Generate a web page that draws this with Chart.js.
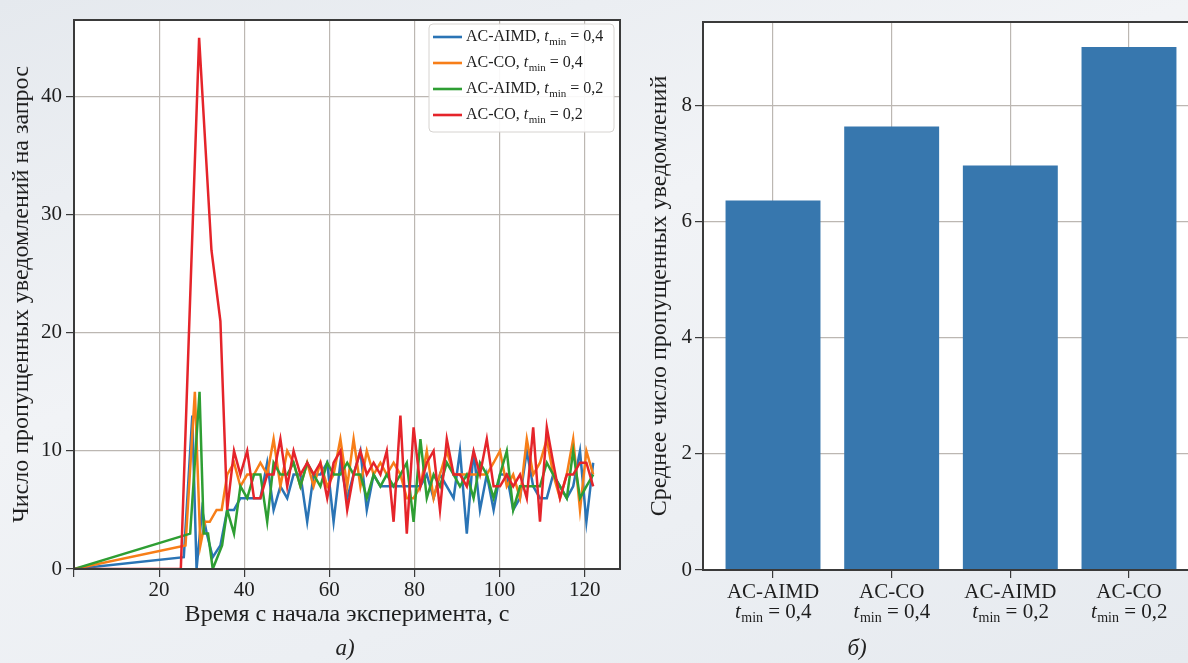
<!DOCTYPE html>
<html>
<head>
<meta charset="utf-8">
<script src="https://cdn.jsdelivr.net/npm/chart.js@4.4.1/dist/chart.umd.min.js"></script>
<style>
  html, body { margin: 0; padding: 0; width: 1188px; height: 663px; overflow: hidden; }
  body {
    background: linear-gradient(160deg, #e5e9ee 0%, #f1f3f6 40%, #eceff3 70%, #e6eaef 100%);
    font-family: "Liberation Serif", serif;
    position: relative;
  }
  #left { position: absolute; left: 0; top: 0; width: 640px; height: 663px; }
  #right { position: absolute; left: 640px; top: 0; width: 580px; height: 663px; }
  .cap { position: absolute; top: 648px; transform: translate(-50%, -50%); font-style: italic; font-size: 23px; color: #222; }
</style>
</head>
<body>
<div id="left"><canvas id="lineChart"></canvas></div>
<div id="right"><canvas id="barChart"></canvas></div>
<div class="cap" style="left:345px">а)</div>
<div class="cap" style="left:857px">б)</div>

<script>
// --- data: left panel (missed notifications per request over time) ---
const seriesNames = ['AC-AIMD', 'AC-CO', 'AC-AIMD', 'AC-CO'];
const seriesTmin = ['0,4', '0,4', '0,2', '0,2'];
const seriesColors = ['#2a74b5', '#f77e18', '#2e9e33', '#e5242a'];

// start-up part of each run (irregular times)
const blueHeadX = [0, 25.8, 27.8, 28.8, 30.1, 31.2, 32.6, 34.4];
const blueHeadY = [0, 1, 13, 0, 5, 3, 1, 2];
const orangeHeadX = [0, 26.2, 28.4, 29.7, 30.8, 31.9, 33.5, 34.7];
const orangeHeadY = [0, 2, 15, 2, 4, 4, 5, 5];
const greenHeadX = [0, 27.3, 29.5, 30.5, 31.5, 32.6, 34.8];
const greenHeadY = [0, 3, 15, 3, 3, 0, 2];
const redHeadX = [0, 25.1, 29.4, 32.3, 34.4];
const redHeadY = [0, 0, 45, 27, 21];

// steady part, common request times
const tailTimes = [36.0, 37.6, 39.1, 40.7, 42.3, 43.8, 45.4, 46.9, 48.5, 50.1, 51.6, 53.2, 54.8, 56.3,
  57.9, 59.5, 61.0, 62.6, 64.2, 65.7, 67.3, 68.8, 70.4, 72.0, 73.5, 75.1, 76.7, 78.2, 79.8, 81.4,
  82.9, 84.5, 86.0, 87.6, 89.2, 90.7, 92.3, 93.9, 95.4, 97.0, 98.6, 100.1, 101.7, 103.2, 104.8,
  106.4, 107.9, 109.5, 111.1, 112.6, 114.2, 115.8, 117.3, 118.9, 120.4, 122.0];
const blueTail = [5, 5, 6, 6, 6, 6, 9, 5, 7, 6, 8, 8, 4, 8, 8, 9, 4, 9, 6, 8, 10, 5, 8, 7, 7, 7, 7, 7,
  7, 7, 8, 6, 8, 7, 6, 10, 3, 10, 5, 8, 5, 8, 8, 5, 6, 10, 7, 6, 6, 8, 7, 6, 7, 10, 4, 9];
const orangeTail = [8, 9, 7, 8, 8, 9, 8, 11, 7, 10, 9, 7, 9, 7, 9, 7, 8, 11, 7, 11, 7, 10, 8, 9, 8, 9,
  8, 6, 6, 7, 10, 6, 8, 10, 8, 8, 8, 8, 8, 8, 9, 10, 7, 8, 6, 11, 8, 9, 11, 8, 6, 8, 11, 5, 10, 8];
const greenTail = [5, 3, 7, 6, 8, 8, 4, 9, 8, 8, 9, 7, 9, 8, 7, 9, 8, 8, 9, 8, 8, 6, 8, 7, 8, 7, 8, 9,
  4, 11, 6, 8, 7, 9, 8, 7, 8, 6, 9, 8, 6, 8, 10, 5, 7, 7, 7, 7, 9, 8, 7, 6, 10, 6, 7, 8];
const redTail = [5, 10, 8, 10, 6, 6, 8, 8, 11, 7, 10, 8, 9, 8, 9, 6, 9, 10, 5, 8, 10, 8, 9, 8, 10, 4,
  13, 3, 12, 7, 9, 10, 5, 11, 8, 8, 7, 10, 8, 11, 7, 7, 8, 7, 8, 6, 12, 4, 12, 9, 6, 8, 8, 9, 9, 7];

const lineXTicks = [0, 20, 40, 60, 80, 100, 120];
const lineYTicks = [0, 10, 20, 30, 40];

// --- data: right panel (mean missed notifications) ---
const barLabels = ['AC-AIMD', 'AC-CO', 'AC-AIMD', 'AC-CO'];
const barTmin = ['0,4', '0,4', '0,2', '0,2'];
const barValues = [6.36, 7.63, 6.96, 9.0];
const barYTicks = [0, 2, 4, 6, 8];

const FONT = '"Liberation Serif", "Times New Roman", serif';
const GRID = '#bcb7b2';
const SPINE = '#3a3a3a';
const INK = '#1e1e1e';

function toPoints(headX, headY, tailY) {
  const xs = headX.concat(tailTimes);
  const ys = headY.concat(tailY);
  return xs.map((x, i) => ({ x: x, y: ys[i] }));
}

// "prefix t_min = value" with italic t and subscript min
function drawTmin(ctx, prefix, value, x, y, size, centered) {
  const sub = Math.round(size * 0.68);
  const main = size + 'px ' + FONT;
  const ital = 'italic ' + size + 'px ' + FONT;
  const small = sub + 'px ' + FONT;
  const rest = ' = ' + value;
  ctx.font = main; const w1 = ctx.measureText(prefix).width;
  ctx.font = ital; const w2 = ctx.measureText('t').width;
  ctx.font = small; const w3 = ctx.measureText('min').width;
  ctx.font = main; const w4 = ctx.measureText(rest).width;
  let cx = centered ? x - (w1 + w2 + w3 + w4) / 2 : x;
  ctx.textAlign = 'left';
  ctx.textBaseline = 'middle';
  ctx.font = main; ctx.fillText(prefix, cx, y); cx += w1;
  ctx.font = ital; ctx.fillText('t', cx, y); cx += w2 + 0.5;
  ctx.font = small; ctx.fillText('min', cx, y + size * 0.32); cx += w3;
  ctx.font = main; ctx.fillText(rest, cx, y);
}

const panelPlugin = {
  id: 'panel',
  beforeDraw(chart) {
    const a = chart.chartArea, ctx = chart.ctx;
    ctx.save();
    ctx.fillStyle = '#ffffff';
    ctx.fillRect(a.left, a.top, a.right - a.left, a.bottom - a.top);
    ctx.restore();
  },
  afterDraw(chart) {
    const a = chart.chartArea, ctx = chart.ctx;
    ctx.save();
    ctx.strokeStyle = SPINE;
    ctx.lineWidth = 2;
    ctx.strokeRect(a.left, a.top, a.right - a.left, a.bottom - a.top);
    ctx.restore();
  }
};

const legendPlugin = {
  id: 'tminLegend',
  afterDraw(chart) {
    const a = chart.chartArea, ctx = chart.ctx;
    const w = 185, h = 108;
    const x0 = a.right - w - 6, y0 = a.top + 4;
    ctx.save();
    ctx.beginPath();
    ctx.roundRect(x0, y0, w, h, 4);
    ctx.fillStyle = 'rgba(255,255,255,0.9)';
    ctx.fill();
    ctx.strokeStyle = '#d6d3d0';
    ctx.lineWidth = 1;
    ctx.stroke();
    seriesNames.forEach((name, i) => {
      const y = y0 + 13 + i * 26;
      ctx.strokeStyle = seriesColors[i];
      ctx.lineWidth = 2.6;
      ctx.beginPath();
      ctx.moveTo(x0 + 4, y);
      ctx.lineTo(x0 + 33, y);
      ctx.stroke();
      ctx.fillStyle = INK;
      drawTmin(ctx, name + ', ', seriesTmin[i], x0 + 37, y, 16, false);
    });
    ctx.restore();
  }
};

const barLabelPlugin = {
  id: 'barLabels',
  afterDraw(chart) {
    const ctx = chart.ctx, xs = chart.scales.x;
    ctx.save();
    ctx.fillStyle = INK;
    barLabels.forEach((name, i) => {
      const x = xs.getPixelForValue(i);
      ctx.font = '21px ' + FONT;
      ctx.textAlign = 'center';
      ctx.textBaseline = 'middle';
      ctx.fillText(name, x, 592);
      drawTmin(ctx, '', barTmin[i], x, 612, 21, true);
    });
    ctx.restore();
  }
};

const tickFont = { family: FONT, size: 21 };
const titleFont = { family: FONT, size: 24 };

new Chart(document.getElementById('lineChart'), {
  type: 'line',
  data: {
    datasets: [
      { data: toPoints(blueHeadX, blueHeadY, blueTail), borderColor: seriesColors[0], order: 4 },
      { data: toPoints(orangeHeadX, orangeHeadY, orangeTail), borderColor: seriesColors[1], order: 3 },
      { data: toPoints(greenHeadX, greenHeadY, greenTail), borderColor: seriesColors[2], order: 2 },
      { data: toPoints(redHeadX, redHeadY, redTail), borderColor: seriesColors[3], order: 1 }
    ].map(d => Object.assign(d, { borderWidth: 2.5, pointRadius: 0, tension: 0, fill: false }))
  },
  options: {
    responsive: true,
    maintainAspectRatio: false,
    animation: false,
    layout: { padding: { top: 20, right: 20, bottom: 30, left: 0 } },
    plugins: { legend: { display: false }, tooltip: { enabled: false } },
    scales: {
      x: {
        type: 'linear', min: 0, max: 128.3,
        afterBuildTicks: s => { s.ticks = lineXTicks.map(v => ({ value: v })); },
        afterFit: s => { s.height = 64; },
        grid: { color: GRID, lineWidth: 1.2, tickLength: 8, tickColor: SPINE },
        border: { display: false },
        ticks: { font: tickFont, color: INK, padding: 1, maxRotation: 0,
                 callback: v => (v === 0 ? '' : v) },
        title: { display: true, text: 'Время с начала эксперимента, с', font: titleFont, color: INK,
                 padding: { top: 0, bottom: 4 } }
      },
      y: {
        min: 0, max: 46.5,
        afterBuildTicks: s => { s.ticks = lineYTicks.map(v => ({ value: v })); },
        afterFit: s => { s.width = 74; },
        grid: { color: GRID, lineWidth: 1.2, tickLength: 8, tickColor: SPINE },
        border: { display: false },
        ticks: { font: tickFont, color: INK, padding: 4 },
        title: { display: true, text: 'Число пропущенных уведомлений на запрос', font: titleFont,
                 color: INK, padding: { top: 7, bottom: 0 } }
      }
    }
  },
  plugins: [panelPlugin, legendPlugin]
});

new Chart(document.getElementById('barChart'), {
  type: 'bar',
  data: {
    datasets: [{
      data: barValues.map((v, i) => ({ x: i, y: v })),
      backgroundColor: '#3777ae',
      borderWidth: 0,
      barPercentage: 0.8,
      categoryPercentage: 1.0
    }]
  },
  options: {
    responsive: true,
    maintainAspectRatio: false,
    animation: false,
    layout: { padding: { top: 22, right: 21, bottom: 30, left: 0 } },
    plugins: { legend: { display: false }, tooltip: { enabled: false } },
    scales: {
      x: {
        type: 'linear', min: -0.59, max: 3.59, z: 1, offset: false,
        afterBuildTicks: s => { s.ticks = barLabels.map((_, i) => ({ value: i })); },
        afterFit: s => { s.height = 63; },
        grid: { color: GRID, lineWidth: 1.2, tickLength: 8, tickColor: SPINE, offset: false },
        border: { display: false },
        ticks: { font: tickFont, callback: () => '' }
      },
      y: {
        min: 0, max: 9.43, z: 1,
        afterBuildTicks: s => { s.ticks = barYTicks.map(v => ({ value: v })); },
        afterFit: s => { s.width = 63; },
        grid: { color: GRID, lineWidth: 1.2, tickLength: 8, tickColor: SPINE },
        border: { display: false },
        ticks: { font: tickFont, color: INK, padding: 3 },
        title: { display: true, text: 'Среднее число пропущенных уведомлений', font: titleFont,
                 color: INK, padding: { top: 5, bottom: 0 } }
      }
    }
  },
  plugins: [panelPlugin, barLabelPlugin]
});
</script>
</body>
</html>
